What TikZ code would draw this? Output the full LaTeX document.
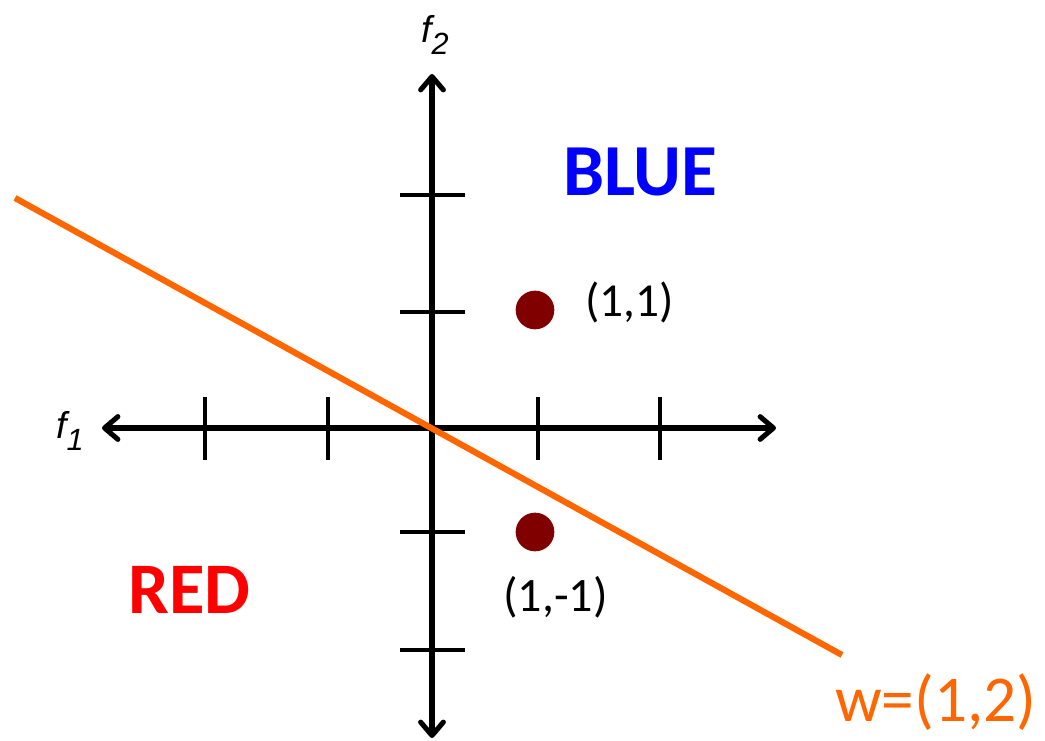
\documentclass[tikz,border=0pt]{standalone}
\usepackage{fontspec}
\usetikzlibrary{arrows.meta}
\newfontfamily\calfont{Carlito}
\newfontfamily\arifont{Liberation Sans}
\definecolor{wline}{RGB}{255,102,0}
\definecolor{dotred}{RGB}{128,0,0}
\definecolor{blueclass}{RGB}{0,0,255}
\definecolor{redclass}{RGB}{255,0,0}
\begin{document}
\begin{tikzpicture}[x=0.75pt,y=-0.75pt,
  axis/.style={line width=3.8pt,line cap=round,
    -{Straight Barb[length=10pt,width=17pt,line cap=round,line join=round]}},
  tick/.style={line width=3.6pt},
  dot/.style={circle,fill=dotred,inner sep=0pt,minimum size=29pt},
  lbl/.style={inner sep=0pt,anchor=base west},
  wl/.style={line width=4.6pt,wline}]
\useasboundingbox (0,0) rectangle (1045,741);
% axis coordinates
\coordinate (O) at (432,428);
\coordinate (xr) at (776,428);
\coordinate (xl) at (102,428);
\coordinate (yt) at (432,74);
\coordinate (yb) at (432,738);
\draw[axis] (O) -- (xr);
\draw[axis] (O) -- (xl);
\draw[axis] (O) -- (yt);
\draw[axis] (O) -- (yb);
% ticks x
\foreach \n/\x in {a/205,b/328,c/538,d/660}{
  \coordinate (tx\n1) at (\x,397);
  \coordinate (tx\n2) at (\x,460);
  \draw[tick] (tx\n1) -- (tx\n2);
}
% ticks y
\foreach \n/\y in {a/195,b/312,c/532,d/650}{
  \coordinate (ty\n1) at (400,\y);
  \coordinate (ty\n2) at (465,\y);
  \draw[tick] (ty\n1) -- (ty\n2);
}
% orange line
\coordinate (w1) at (15,198);
\coordinate (w2) at (842,655);
\draw[wl] (w1) -- (w2);
% dots
\node[dot] (p1) at (535,310) {};
\node[dot] (p2) at (535,532) {};
% labels
\node[lbl] (f2) at (421,43) {\fontsize{28}{28}\arifont\itshape f\raisebox{-9pt}{\fontsize{23}{23}\selectfont 2}};
\node[lbl] (f1) at (56,438) {\fontsize{28}{28}\arifont\itshape f\raisebox{-9pt}{\fontsize{23}{23}\selectfont 1}};
\node[lbl,text=blueclass] (blue) at (563,196) {\fontsize{55}{55}\calfont\bfseries BLUE};
\node[lbl,text=redclass] (red) at (128,613) {\fontsize{54.5}{54.5}\calfont\bfseries RED};
\node[lbl] (l1) at (585,316) {\fontsize{35.5}{35.5}\calfont (1,1)};
\node[lbl] (l2) at (503,611) {\fontsize{36}{36}\calfont (1,-1)};
\node[lbl,text=wline] (wlab) at (835,721) {\fontsize{49}{49}\calfont w=(1,2)};
\end{tikzpicture}
\end{document}
